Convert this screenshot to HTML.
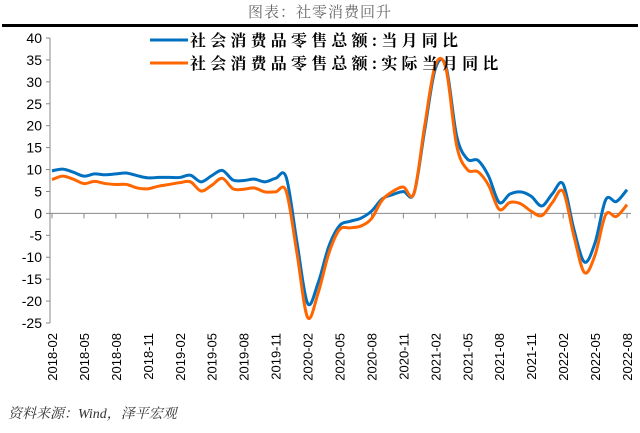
<!DOCTYPE html>
<html><head><meta charset="utf-8">
<style>
body{margin:0;background:#fff;width:640px;height:428px;overflow:hidden;font-family:"Liberation Sans","Noto Sans CJK SC",sans-serif;}
</style></head>
<body>
<svg id="chart" width="640" height="428" xmlns="http://www.w3.org/2000/svg">
<text x="320" y="17" text-anchor="middle" font-size="15" fill="#666" font-family="'Noto Serif CJK SC','Noto Sans CJK SC',sans-serif" letter-spacing="1">图表：社零消费回升</text>
<rect x="2" y="24" width="636" height="3" fill="#000"/>
<g id="axes"></g>
<g id="series"></g>
<g>
<line x1="150" y1="40" x2="188" y2="40" stroke="#0070C0" stroke-width="3"/>
<text x="190" y="46" font-size="16" font-weight="bold" letter-spacing="4.2" font-family="'Noto Serif CJK SC','Noto Sans CJK SC',sans-serif">社会消费品零售总额:当月同比</text>
<line x1="150" y1="63" x2="188" y2="63" stroke="#FF6600" stroke-width="3"/>
<text x="190" y="69" font-size="16" font-weight="bold" letter-spacing="4.2" font-family="'Noto Serif CJK SC','Noto Sans CJK SC',sans-serif">社会消费品零售总额:实际当月同比</text>
</g>
<text x="8" y="418" font-size="14" font-style="italic" fill="#333" font-family="'Liberation Serif','Noto Serif CJK SC',serif">资料来源：Wind，泽平宏观</text>
</svg>
<script>
const nominal=[9.7,10.1,9.4,8.5,9.0,8.8,9.0,9.2,8.6,8.1,8.2,
8.2,8.2,8.7,7.2,8.6,9.8,7.6,7.5,7.8,7.2,8.0,8.2,
-6.5,-20.5,-15.8,-7.5,-2.8,-1.8,-1.1,0.5,3.3,4.3,5.0,4.6,
19,33.0,33.5,17.7,12.4,12.1,8.5,2.5,4.4,4.9,3.9,1.7,
4.5,6.7,-3.5,-11.1,-6.7,3.1,2.7,5.4];
const real=[7.7,8.5,7.8,6.8,7.3,6.8,6.6,6.6,5.8,5.6,6.2,
6.6,7.0,7.2,5.1,6.4,8.0,5.6,5.5,5.8,4.9,4.9,5.0,
-9,-23.7,-18.1,-9.1,-3.7,-3.3,-2.9,-1.2,3.0,5.0,6.0,4.6,
20,33.8,33.0,15.5,10.0,9.5,6.4,0.9,2.5,2.2,0.5,-0.5,
2.5,5.0,-5.0,-13.5,-9.5,-0.3,-0.7,2.0];
const yTicks=[40,35,30,25,20,15,10,5,0,-5,-10,-15,-20,-25];
const xLabels=["2018-02","2018-05","2018-08","2018-11","2019-02","2019-05","2019-08","2019-11","2020-02","2020-05","2020-08","2020-11","2021-02","2021-05","2021-08","2021-11","2022-02","2022-05","2022-08"];
const NS="http://www.w3.org/2000/svg";
const x0=52,x1=627,yTop=38,yBot=323;
const n=nominal.length;
const xs=i=>x0+(x1-x0)*i/(n-1);
const ys=v=>yTop+(40-v)*(yBot-yTop)/65;
const axes=document.getElementById('axes'),ser=document.getElementById('series');
function mk(t,a,p){const e=document.createElementNS(NS,t);for(const k in a)e.setAttribute(k,a[k]);p.appendChild(e);return e;}
const yAxis=mk('line',{x1:x0-2,y1:yTop,x2:x0-2,y2:yBot,stroke:'#888','stroke-width':1},axes);


yTicks.forEach(v=>{
 const t=mk('text',{x:x0-10,y:ys(v)+5,'text-anchor':'end','font-size':14},axes);
 t.textContent=v;
 
 
 mk('line',{x1:x0-6,y1:ys(v),x2:x0-2,y2:ys(v),stroke:'#888'},axes);
});
const xAxis=mk('line',{x1:x0-2,y1:ys(0),x2:x1+4,y2:ys(0),stroke:'#888','stroke-width':1},axes);


xLabels.forEach((l,k)=>{
 const xx=xs(k*3);
 mk('line',{x1:xx,y1:ys(0),x2:xx,y2:ys(0)+5,stroke:'#888'},axes);
 const t=mk('text',{x:0,y:0,'text-anchor':'end','font-size':13,transform:`translate(${xx+5},${yBot+10}) rotate(-90)`},axes);
 t.textContent=l;
 
 
});
function path(d){
 const p=d.map((v,i)=>[xs(i),ys(v)]);
 let s=`M${p[0][0]},${p[0][1]}`;
 for(let i=0;i<p.length-1;i++){
  const a=p[Math.max(i-1,0)],b=p[i],c=p[i+1],e=p[Math.min(i+2,p.length-1)];
  const c1=[b[0]+(c[0]-a[0])/6,b[1]+(c[1]-a[1])/6],c2=[c[0]-(e[0]-b[0])/6,c[1]-(e[1]-b[1])/6];
  s+=`C${c1[0]},${c1[1]} ${c2[0]},${c2[1]} ${c[0]},${c[1]}`;
 }
 return s;
}
const l1=mk('path',{d:path(nominal),fill:'none',stroke:'#0070C0','stroke-width':3},ser);


const l2=mk('path',{d:path(real),fill:'none',stroke:'#FF6600','stroke-width':3},ser);


</script>
</body></html>
